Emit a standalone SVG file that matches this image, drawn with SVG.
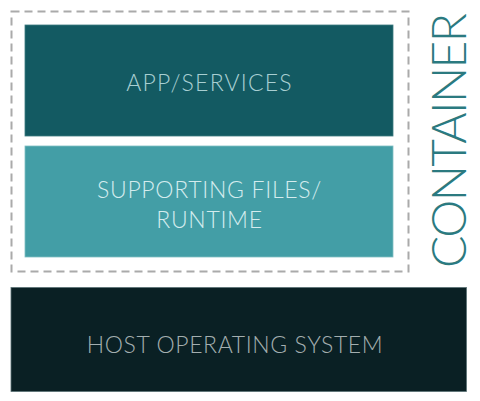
<svg xmlns="http://www.w3.org/2000/svg" width="480" height="401" viewBox="0 0 480 401">
<style>
.lbl{font-family:Lato,"Open Sans",sans-serif;font-weight:300;text-anchor:middle;font-size:23px;letter-spacing:0.7px}
</style>
<rect width="480" height="401" fill="#ffffff"/>
<g id="container">
<rect x="11.5" y="11.5" width="397" height="260" fill="none" stroke="#aaaaaa" stroke-width="2" stroke-dasharray="8,5"/>
<text x="0" y="0" transform="translate(466,140.5) rotate(-90)" class="lbl" style="font-size:48px;fill:#2b7a80;letter-spacing:0px" textLength="255" lengthAdjust="spacing">CONTAINER</text>
</g>
<g id="app">
<rect x="25" y="25" width="368" height="111" fill="#135a62" stroke="#3d7a80" stroke-width="0.8"/>
<text x="209.5" y="90.5" class="lbl" fill="#a8cfd2" style="letter-spacing:1.2px">APP/SERVICES</text>
</g>
<g id="support">
<rect x="25" y="146" width="368" height="111" fill="#439ea6" stroke="#7fbfc4" stroke-width="0.8"/>
<text x="209.5" y="197.5" class="lbl" fill="#d4ecee">SUPPORTING FILES/</text>
<text x="209.5" y="227.5" class="lbl" fill="#d4ecee">RUNTIME</text>
</g>
<g id="host">
<rect x="11" y="287.5" width="455.5" height="104" fill="#0a2024" stroke="#5a7275" stroke-width="0.8"/>
<text x="235" y="352.5" class="lbl" fill="#a3aeaf" style="letter-spacing:0.6px">HOST OPERATING SYSTEM</text>
</g>
<g id="connectors"/>
</svg>
